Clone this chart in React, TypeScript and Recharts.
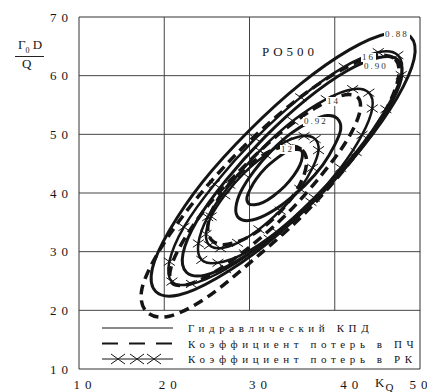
import React from 'react';
import {
  LineChart,
  Line,
  XAxis,
  YAxis,
  CartesianGrid,
  ReferenceLine,
  ReferenceArea
} from 'recharts';

// axis ticks
const xTicks = [10, 20, 30, 40, 50];
const yTicks = [10, 20, 30, 40, 50, 60, 70];

// гидравлический КПД (solid)
const kpd088 = [[48.9,66.6],[49.3,62.8],[47.3,56.2],[43.3,47.9],[37.9,39.1],[31.9,31.2],[26.2,25.5],[21.7,22.6],[19.0,23.2],[18.6,27.1],[20.6,33.6],[24.5,41.9],[30.0,50.7],[36.0,58.6],[41.7,64.4],[46.2,67.2]];
const kpd090 = [[47.4,62.7],[47.8,59.4],[46.1,54.0],[42.8,47.0],[38.3,39.7],[33.3,33.2],[28.5,28.4],[24.8,26.0],[22.6,26.5],[22.2,29.7],[23.8,35.2],[27.2,42.1],[31.7,49.4],[36.7,56.0],[41.4,60.8],[45.2,63.1]];
const kpd092 = [[40.3,52.7],[40.7,50.9],[40.0,48.2],[38.6,44.8],[36.5,41.3],[34.1,38.3],[31.8,36.2],[29.9,35.3],[28.7,35.8],[28.4,37.5],[29.0,40.3],[30.5,43.7],[32.5,47.1],[34.9,50.2],[37.2,52.2],[39.1,53.2]];
const kpdInner = [[36.1,47.2],[36.2,46.2],[35.9,44.7],[35.2,43.0],[34.1,41.1],[32.8,39.5],[31.6,38.4],[30.6,38.0],[29.9,38.2],[29.7,39.2],[30.1,40.7],[30.8,42.4],[31.9,44.3],[33.2,45.9],[34.4,47.1],[35.4,47.4]];

// коэффициент потерь в ПЧ (dashed)
const pch16 = [[47.1,62.8],[47.4,59.2],[45.5,52.9],[41.6,44.9],[36.4,36.4],[30.6,28.8],[25.0,22.2],[20.6,19.0],[17.9,19.8],[17.4,23.8],[19.6,30.6],[23.7,38.9],[28.9,47.3],[34.7,54.9],[40.2,60.5],[44.6,63.3]];
const pch14 = [[42.7,56.3],[42.9,53.6],[41.4,48.9],[38.4,43.0],[34.5,36.6],[30.1,30.9],[26.0,26.6],[22.8,24.4],[20.9,24.7],[20.8,27.4],[22.3,32.0],[25.2,38.0],[29.2,44.3],[33.5,50.1],[37.6,54.4],[40.8,56.6]];
const pch12 = [[36.2,47.3],[36.7,45.5],[36.3,42.7],[35.1,39.5],[33.2,36.2],[31.0,33.5],[28.8,31.8],[26.9,31.2],[25.6,31.9],[25.1,33.8],[25.5,36.6],[26.7,39.8],[28.6,43.0],[30.8,45.7],[33.0,47.5],[34.9,48.0]];

// коэффициент потерь в РК (x markers)
const rk1 = [[47.4,63.5],[47.8,60.1],[46.0,54.3],[42.5,47.0],[37.6,39.2],[32.3,32.2],[27.2,27.0],[23.2,24.5],[20.9,24.9],[20.6,28.3],[22.3,34.2],[25.9,41.5],[30.7,49.3],[36.0,56.3],[41.1,61.5],[45.1,64.0]];
const rk2 = [[44.0,57.1],[44.4,54.4],[43.2,49.9],[40.7,44.3],[37.2,38.5],[33.2,33.4],[29.4,29.7],[26.3,28.1],[24.4,28.6],[24.0,31.4],[25.1,35.9],[27.7,41.4],[31.2,47.2],[35.1,52.3],[39.0,56.0],[42.1,57.7]];
const rk3 = [[37.7,49.2],[38.1,47.3],[37.4,44.3],[35.9,40.7],[33.6,37.0],[31.1,33.8],[28.6,31.5],[26.6,30.6],[25.3,31.1],[24.9,33.0],[25.5,36.0],[27.1,39.6],[29.3,43.3],[31.9,46.5],[34.3,48.8],[36.4,49.7]];

const legendItems = ['Гидравлический КПД', 'Коэффициент потерь в ПЧ', 'Коэффициент потерь в РК'];

const toPts = (arr: number[][]) => arr.map(([x, y]) => ({ x, y }));

const FONT = '"Liberation Serif", "Times New Roman", Times, serif';
const INK = '#151515';

// closed catmull-rom through the points
const closedCurve = (context: any) => {
  let pts: number[][] = [];
  return {
    areaStart() {},
    areaEnd() {},
    lineStart() { pts = []; },
    point(x: number, y: number) { pts.push([+x, +y]); },
    lineEnd() {
      const n = pts.length;
      if (!n) return;
      context.moveTo(pts[0][0], pts[0][1]);
      for (let i = 0; i < n; i++) {
        const p0 = pts[(i - 1 + n) % n];
        const p1 = pts[i];
        const p2 = pts[(i + 1) % n];
        const p3 = pts[(i + 2) % n];
        context.bezierCurveTo(
          p1[0] + (p2[0] - p0[0]) / 6, p1[1] + (p2[1] - p0[1]) / 6,
          p2[0] - (p3[0] - p1[0]) / 6, p2[1] - (p3[1] - p1[1]) / 6,
          p2[0], p2[1]
        );
      }
      context.closePath();
    }
  };
};

const renderX = (p: any) => {
  const { cx, cy, index } = p;
  if (cx == null || cy == null) return <g key={`xm-${index}`} />;
  const s = 5.5;
  return (
    <g key={`xm-${index}`} stroke={INK} strokeWidth={1}>
      <line x1={cx - s} y1={cy - s * 0.7} x2={cx + s} y2={cy + s * 0.7} />
      <line x1={cx - s} y1={cy + s * 0.7} x2={cx + s} y2={cy - s * 0.7} />
    </g>
  );
};

const xTickShift: Record<number, number> = { 10: 6, 20: 6, 30: 11, 40: 17, 50: 1 };

const XTick = (p: any) => {
  const v = p.payload.value;
  return (
    <text x={p.x + (xTickShift[v] || 0)} y={p.y} dy="0.71em" textAnchor="middle"
      fontFamily={FONT} fontSize={13} letterSpacing={5} fill={INK}>
      {v}
    </text>
  );
};

const curveLabel = (text: string, left: number, top: number) => (
  <div style={{
    position: 'absolute', left, top, background: '#fff', fontFamily: FONT,
    fontSize: 9, letterSpacing: 2, color: '#333', lineHeight: '9px', padding: '0 1px'
  }}>{text}</div>
);

export default function App() {
  const solid = [kpd088, kpd090, kpd092, kpdInner];
  const dashed = [pch16, pch14, pch12];
  const crossed = [rk1, rk2, rk3];

  return (
    <div style={{ position: 'relative', width: 427, height: 384, fontFamily: FONT }}>
      <LineChart width={427} height={384} data={[]}
        margin={{ top: 9, right: 15, left: 0, bottom: 0 }}>
        <CartesianGrid vertical={false} stroke="#444" strokeWidth={1} horizontalValues={[20, 30, 40, 50, 60]} />
        {[20, 30, 40].map((v) => (
          <ReferenceLine key={`v${v}`} segment={[{ x: v, y: 20 }, { x: v, y: 70 }]} stroke="#444" strokeWidth={1} />
        ))}
        <ReferenceArea x1={10} x2={50} y1={10} y2={70} fill="none" stroke="#333" strokeWidth={1} />
        <XAxis dataKey="x" type="number" domain={[10, 50]} ticks={xTicks} height={23}
          tickSize={0} tickMargin={11} axisLine={false} tick={<XTick />} allowDataOverflow />
        <YAxis type="number" domain={[10, 70]} ticks={yTicks} width={71}
          tickSize={0} tickMargin={6} axisLine={false}
          tick={{ fontFamily: FONT, fontSize: 13, letterSpacing: 5, fill: INK }} allowDataOverflow />
        {dashed.map((d, i) => (
          <Line key={`d${i}`} data={toPts(d)} dataKey="y" type={closedCurve as any}
            stroke={INK} strokeWidth={3.5} strokeDasharray="10 6" dot={false}
            isAnimationActive={false} />
        ))}
        {crossed.map((d, i) => (
          <Line key={`c${i}`} data={toPts(d)} dataKey="y" type={closedCurve as any}
            stroke={INK} strokeWidth={2.5} dot={renderX}
            isAnimationActive={false} />
        ))}
        {solid.map((d, i) => (
          <Line key={`s${i}`} data={toPts(d)} dataKey="y" type={closedCurve as any}
            stroke={INK} strokeWidth={3} dot={false}
            isAnimationActive={false} />
        ))}
      </LineChart>

      {curveLabel('0.88', 376, 22)}
      {curveLabel('16', 353, 45)}
      {curveLabel('0.90', 355, 54)}
      {curveLabel('14', 318, 89)}
      {curveLabel('0.92', 295, 109)}
      {curveLabel('12', 272, 137)}

      <div style={{ position: 'absolute', left: 254, top: 36, fontSize: 13, letterSpacing: 4, color: INK }}>PO500</div>

      <div style={{ position: 'absolute', left: 7, top: 30, color: INK, fontSize: 13, lineHeight: '13px' }}>
        <div style={{ borderBottom: '1px solid #222', padding: '0 2px 1px 3px', whiteSpace: 'nowrap' }}>
          Γ<sub style={{ fontSize: 8, lineHeight: '8px' }}>0</sub> D
        </div>
        <div style={{ textAlign: 'center', paddingRight: 6 }}>Q</div>
      </div>

      <div style={{ position: 'absolute', left: 367, top: 368, color: INK, fontSize: 13, lineHeight: '13px', whiteSpace: 'nowrap' }}>
        K<span style={{ fontSize: 11, position: 'relative', top: 4, marginLeft: 1 }}>Q</span>
      </div>

      <svg style={{ position: 'absolute', left: 90, top: 310 }} width={330} height={58}>
        {legendItems.map((t, i) => {
          const y = 10 + i * 15.5;
          return (
            <g key={t}>
              {i === 0 && <line x1={4} x2={75} y1={y} y2={y} stroke={INK} strokeWidth={1} />}
              {i === 1 && <line x1={4} x2={75} y1={y} y2={y} stroke={INK} strokeWidth={2} strokeDasharray="16 11" />}
              {i === 2 && (
                <g stroke={INK} strokeWidth={1}>
                  <line x1={4} x2={75} y1={y} y2={y} />
                  {[20, 39, 56].map((cx) => (
                    <g key={cx}>
                      <line x1={cx - 7} y1={y - 5} x2={cx + 7} y2={y + 5} />
                      <line x1={cx - 7} y1={y + 5} x2={cx + 7} y2={y - 5} />
                    </g>
                  ))}
                </g>
              )}
              <text x={90} y={y} dominantBaseline="central" fontFamily={FONT} fontSize={11}
                letterSpacing={4.6} fill={INK}>{t}</text>
            </g>
          );
        })}
      </svg>
    </div>
  );
}
